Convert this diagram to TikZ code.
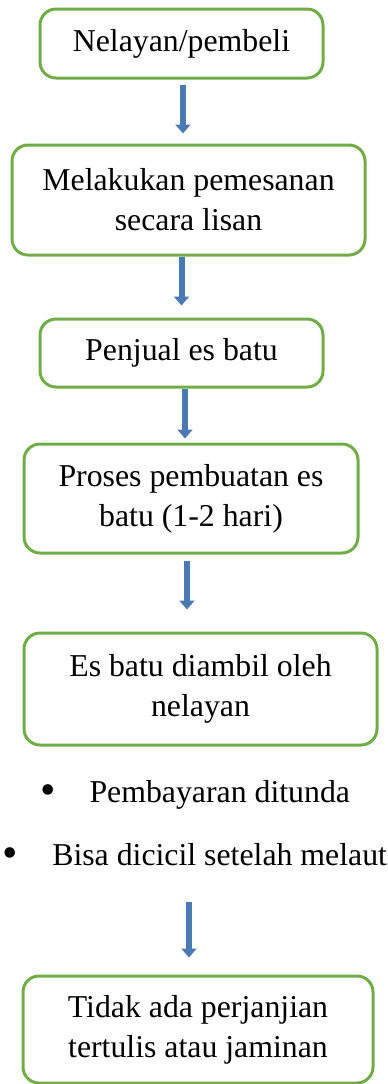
\documentclass[tikz,border=0pt]{standalone}
\usepackage{fontspec}
\setmainfont{Liberation Serif}
\definecolor{boxgreen}{RGB}{112, 173, 71}
\definecolor{arrowblue}{RGB}{74, 122, 180}
\usetikzlibrary{arrows.meta}
\newcommand{\bigbullet}{\raisebox{-1pt}{\fontsize{22}{22}\selectfont\textbullet}}
\tikzset{
  stepbox/.style={draw=boxgreen, line width=1.5pt, rounded corners=8pt, align=center, inner sep=0pt, font=\fontsize{15.9}{20}\selectfont},
  flowarrow/.style={draw=arrowblue, line width=3pt, -{Triangle[width=7.5pt, length=4.5pt]}},
  bullettext/.style={anchor=base west, inner sep=0pt, font=\fontsize{15.9}{20}\selectfont}
}

\begin{document}
\begin{tikzpicture}[x=0.5pt, y=-0.5pt]
  \useasboundingbox (0,0) rectangle (387,1084);

  \node[stepbox, minimum width=141.5pt, minimum height=34.5pt] (buyer) at (181.5, 43.5) {Nelayan/pembeli};
  \node[stepbox, minimum width=176.5pt, minimum height=55pt] (order) at (188.5, 200) {Melakukan pemesanan\\secara lisan};
  \node[stepbox, minimum width=141.5pt, minimum height=34pt] (seller) at (181.5, 353) {Penjual es batu};
  \node[stepbox, minimum width=167pt, minimum height=54.5pt] (making) at (191, 498.5) {Proses pembuatan es\\batu (1-2 hari)};
  \node[stepbox, minimum width=176.5pt, minimum height=56pt] (pickup) at (200.5, 689) {Es batu diambil oleh\\nelayan};

  \node[bullettext] (b1) at (40.5, 802) {\bigbullet\hspace{16.6pt}Pembayaran ditunda};
  \node[bullettext] (b2) at (2.5, 865) {\bigbullet\hspace{17pt}Bisa dicicil setelah melaut};

  \node[stepbox, minimum width=175pt, minimum height=53.5pt] (final) at (198, 1029.5) {Tidak ada perjanjian\\tertulis atau jaminan};

  % arrows between the steps
  \draw[flowarrow, shorten <=2.5pt, shorten >=5pt] ([xshift=0.75pt]buyer.south) -- ([xshift=0.75pt]buyer.south |- order.north);
  \draw[flowarrow, shorten >=6pt] (seller.north |- order.south) -- (seller.north);
  \draw[flowarrow, shorten >=2pt] ([xshift=1.75pt]seller.south) -- ([xshift=1.75pt]seller.south |- making.north);
  \draw[flowarrow, shorten <=3pt, shorten >=11pt] ([xshift=-2pt]making.south) -- ([xshift=-2pt]making.south |- pickup.north);
  \draw[flowarrow, shorten <=17.5pt, shorten >=8.5pt] ([xshift=-4.5pt]final.north |- b2.south) -- ([xshift=-4.5pt]final.north);
\end{tikzpicture}
\end{document}
